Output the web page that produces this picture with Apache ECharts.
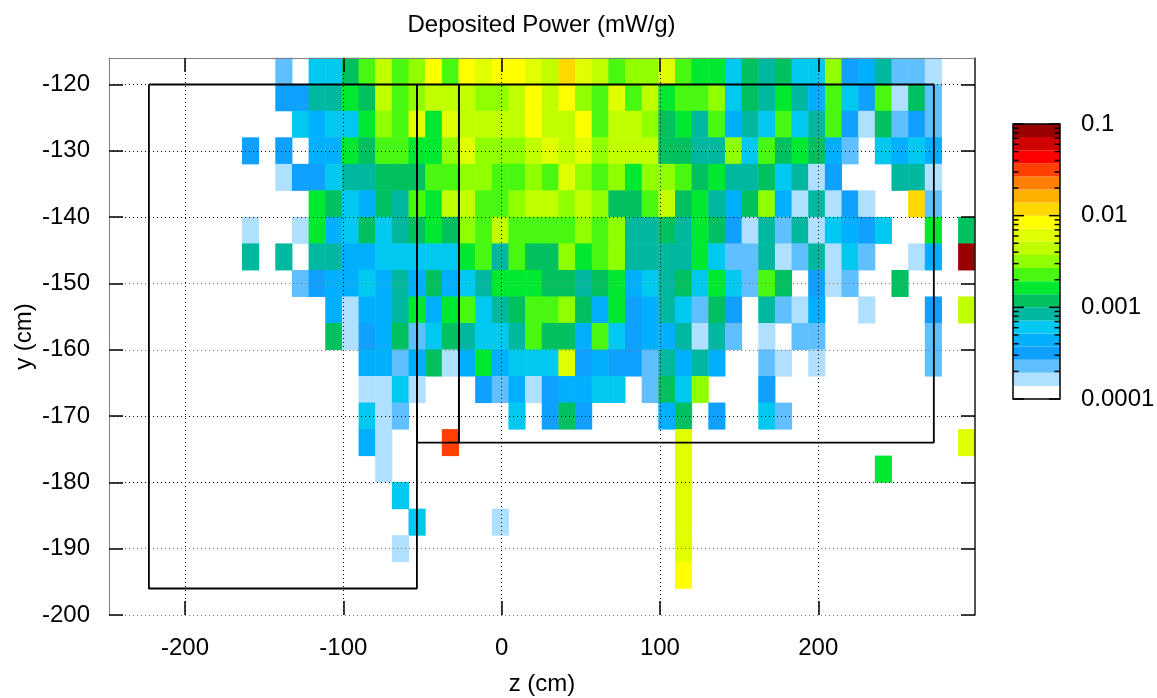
<!DOCTYPE html>
<html>
<head>
<meta charset="utf-8">
<style>html,body{margin:0;padding:0;background:#fff}#c{width:1157px;height:698px}</style>
<script src="https://cdn.jsdelivr.net/npm/echarts@6/dist/echarts.min.js"></script>
</head>
<body>
<div id="c"></div>
<script>
// Colour band for each 4 cm row (top to bottom), 52 z bins; 0 = below scale (white)
const rowM118 = [0,0,0,0,0,0,0,0,0,0,2,0,5,5,7,9,11,9,10,13,9,13,12,13,13,12,11,14,12,11,9,10,10,12,9,8,8,5,7,6,7,5,5,10,3,4,6,2,2,1,0,0];
const rowM122 = [0,0,0,0,0,0,0,0,0,0,3,3,6,6,8,7,11,9,10,11,11,11,10,10,11,13,11,13,10,9,12,9,11,8,9,9,10,5,7,6,8,6,4,9,5,3,9,1,7,2,0,0];
const rowM126 = [0,0,0,0,0,0,0,0,0,0,0,5,4,5,5,8,10,9,12,8,12,11,11,11,11,13,11,11,13,9,11,11,10,7,8,6,9,4,6,5,9,5,6,9,3,1,7,2,3,2,0,0];
const rowM130 = [0,0,0,0,0,0,0,0,3,0,3,0,4,4,8,7,9,9,8,8,10,12,10,10,10,11,12,11,12,10,11,11,11,7,7,6,6,10,5,9,7,8,7,4,2,0,5,4,5,4,0,0];
const rowM134 = [0,0,0,0,0,0,0,0,0,0,1,3,3,5,6,6,7,7,7,9,9,10,10,9,9,10,9,12,10,9,10,8,10,10,9,7,8,6,6,7,5,6,1,3,0,0,0,6,6,1,0,0];
const rowM138 = [0,0,0,0,0,0,0,0,0,0,0,0,8,7,5,4,7,6,9,8,11,11,9,9,10,11,11,10,11,10,7,7,9,11,7,8,6,4,7,10,4,1,6,1,3,1,0,0,14,2,0,0];
const rowM142 = [0,0,0,0,0,0,0,0,1,0,0,1,8,4,5,7,5,6,7,8,7,10,9,11,9,9,9,9,10,9,10,6,6,7,6,8,7,3,1,6,2,6,1,5,4,3,5,0,0,8,0,7];
const rowM146 = [0,0,0,0,0,0,0,0,6,0,6,0,6,6,4,4,5,5,5,5,5,8,9,6,9,7,7,10,8,9,10,6,6,6,6,8,5,2,2,6,1,2,6,1,5,2,0,0,1,4,0,20];
const rowM150 = [0,0,0,0,0,0,0,0,0,0,0,2,3,4,4,5,4,6,4,7,4,5,6,8,8,8,7,7,6,7,8,4,5,6,7,5,8,5,2,9,7,0,3,1,2,0,0,7,0,0,0,0];
const rowM154 = [0,0,0,0,0,0,0,0,0,0,0,0,0,4,1,4,4,6,8,4,8,9,5,6,7,9,9,10,7,4,8,3,4,6,5,2,7,3,0,6,2,1,4,0,0,1,0,0,0,3,0,11];
const rowM158 = [0,0,0,0,0,0,0,0,0,0,0,0,0,7,1,3,4,7,2,5,7,6,5,5,6,9,7,7,4,9,5,3,4,4,6,1,6,2,0,1,0,2,2,0,0,0,0,0,0,2,0,0];
const rowM162 = [0,0,0,0,0,0,0,0,0,0,0,0,0,0,0,4,4,2,4,7,1,4,8,4,5,5,5,12,3,4,3,3,2,6,4,6,4,0,0,2,1,0,1,0,0,0,0,0,0,2,0,0];
const rowM166 = [0,0,0,0,0,0,0,0,0,0,0,0,0,0,0,1,1,5,1,0,0,0,3,2,4,1,3,4,4,5,5,0,2,7,5,10,0,0,0,3,0,0,0,0,0,0,0,0,0,0,0,0];
const rowM170 = [0,0,0,0,0,0,0,0,0,0,0,0,0,0,0,5,1,2,0,0,0,0,0,0,5,0,3,7,3,0,0,0,0,4,7,0,3,0,0,5,2,0,0,0,0,0,0,0,0,0,0,0];
const rowM174 = [0,0,0,0,0,0,0,0,0,0,0,0,0,0,0,4,1,0,0,0,17,0,0,0,0,0,0,0,0,0,0,0,0,0,12,0,0,0,0,0,0,0,0,0,0,0,0,0,0,0,0,12];
const rowM178 = [0,0,0,0,0,0,0,0,0,0,0,0,0,0,0,0,1,0,0,0,0,0,0,0,0,0,0,0,0,0,0,0,0,0,12,0,0,0,0,0,0,0,0,0,0,0,8,0,0,0,0,0];
const rowM182 = [0,0,0,0,0,0,0,0,0,0,0,0,0,0,0,0,0,5,0,0,0,0,0,0,0,0,0,0,0,0,0,0,0,0,12,0,0,0,0,0,0,0,0,0,0,0,0,0,0,0,0,0];
const rowM186 = [0,0,0,0,0,0,0,0,0,0,0,0,0,0,0,0,0,0,5,0,0,0,0,1,0,0,0,0,0,0,0,0,0,0,12,0,0,0,0,0,0,0,0,0,0,0,0,0,0,0,0,0];
const rowM190 = [0,0,0,0,0,0,0,0,0,0,0,0,0,0,0,0,0,1,0,0,0,0,0,0,0,0,0,0,0,0,0,0,0,0,12,0,0,0,0,0,0,0,0,0,0,0,0,0,0,0,0,0];
const rowM194 = [0,0,0,0,0,0,0,0,0,0,0,0,0,0,0,0,0,0,0,0,0,0,0,0,0,0,0,0,0,0,0,0,0,0,13,0,0,0,0,0,0,0,0,0,0,0,0,0,0,0,0,0];
const rowM198 = [0,0,0,0,0,0,0,0,0,0,0,0,0,0,0,0,0,0,0,0,0,0,0,0,0,0,0,0,0,0,0,0,0,0,0,0,0,0,0,0,0,0,0,0,0,0,0,0,0,0,0,0];

const rowsTopDown = [rowM118,rowM122,rowM126,rowM130,rowM134,rowM138,rowM142,rowM146,rowM150,rowM154,rowM158,rowM162,rowM166,rowM170,rowM174,rowM178,rowM182,rowM186,rowM190,rowM194,rowM198];
const yBins = [-198,-194,-190,-186,-182,-178,-174,-170,-166,-162,-158,-154,-150,-146,-142,-138,-134,-130,-126,-122,-118];
const zBins = rowM118.map((_, i) => i);

const palette = ['#ffffff','#b0e0ff','#60c0ff','#10a0ff','#00b0ff','#00c8f0','#00b8a0','#00c060','#00e830','#48f810','#90ff00','#c0ff00','#e0ff00','#ffff00','#ffd800','#ffb000','#ff8000','#ff4000','#ff0000','#d00000','#990000'];
const powerMin = 0.0001, bandsPerDecade = 7;
const bandEdge = k => powerMin * Math.pow(10, k / bandsPerDecade);
const bandCentre = k => bandEdge(k + 0.5);

const zTicks = [-200,-100,0,100,200];
const yTicks = [-200,-190,-180,-170,-160,-150,-140,-130,-120];
const zRange = [-248, 299], yRange = [-200, -116];
const barTicksMajor = [0.0001,0.001,0.01,0.1];
const barTicksMinor = [0.0002,0.0003,0.0004,0.0005,0.0006,0.0007,0.0008,0.0009,0.002,0.003,0.004,0.005,0.006,0.007,0.008,0.009,0.02,0.03,0.04,0.05,0.06,0.07,0.08,0.09];

// Boundary boxes (z, y)
const boxLower = [[-222.8,-120],[-53.5,-120],[-53.5,-196],[-222.8,-196],[-222.8,-120]];
const boxMiddle = [[-53.5,-120],[-27,-120],[-27,-174],[-53.5,-174],[-53.5,-120]];
const boxUpper = [[-27,-120],[273,-120],[273,-174],[-27,-174],[-27,-120]];

const FONT = '"Liberation Sans", Arial, Helvetica, sans-serif';
const FS = 24;
const cells = [];
rowsTopDown.forEach((row, r) => row.forEach((band, i) => {
  if (band > 0) cells.push([i, rowsTopDown.length - 1 - r, bandCentre(band)]);
}));
const barBands = palette.map((c, k) => [0, bandEdge(k), bandEdge(k + 1), k]);
const pieces = palette.map((c, k) => ({ gte: bandEdge(k), lt: bandEdge(k + 1), color: c }));

const frame = { show: true, onZero: false, lineStyle: { color: '#808080', width: 1 } };
const frameRight = { show: true, onZero: false, lineStyle: { color: '#1a1a1a', width: 1.5 } };
const dots = c => ({ show: true, lineStyle: { color: c, width: 1, type: [1, 3] } });
const tick = v => ({ show: true, inside: true, length: 14, customValues: v, lineStyle: { color: '#000', width: 1.5 } });
const label = (v, m) => ({ show: true, customValues: v, color: '#000', fontSize: FS, fontFamily: FONT, margin: m });
const axisName = { color: '#000', fontSize: FS, fontFamily: FONT };

const boxSeries = d => ({ type: 'line', xAxisIndex: 1, yAxisIndex: 1, data: d, symbol: 'none', silent: true, z: 5, clip: false,
  lineStyle: { color: '#000', width: 1.8 } });

const chart = echarts.init(document.getElementById('c'), null, { renderer: 'canvas' });
chart.setOption({
  animation: false,
  backgroundColor: '#fff',
  title: { text: 'Deposited Power (mW/g)', left: 536.5, top: 8, textAlign: 'center',
    textStyle: { color: '#000', fontWeight: 'normal', fontSize: FS, fontFamily: FONT } },
  grid: [
    { left: 109, top: 58, width: 866, height: 557, containLabel: false, outerBoundsMode: 'none' },
    { left: 1013, top: 124, width: 47, height: 275, show: true, borderColor: '#000', borderWidth: 1.5, backgroundColor: 'transparent', z: 4, outerBoundsMode: 'none' }
  ],
  xAxis: [
    { type: 'category', gridIndex: 0, data: zBins, show: false },
    { type: 'value', gridIndex: 0, position: 'bottom', min: zRange[0], max: zRange[1], z: 3, axisLine: { show: false },
      axisTick: tick(zTicks), axisLabel: label(zTicks, 21), splitLine: dots('#000'),
      name: 'z (cm)', nameLocation: 'middle', nameGap: 57, nameMoveOverlap: false, nameTextStyle: axisName },
    { type: 'value', gridIndex: 0, position: 'top', min: zRange[0], max: zRange[1], z: 3, axisLine: frame,
      axisTick: tick(zTicks), axisLabel: { show: false }, splitLine: { show: false } },
    { type: 'value', gridIndex: 1, min: 0, max: 1, show: false }
  ],
  yAxis: [
    { type: 'category', gridIndex: 0, data: yBins, show: false },
    { type: 'value', gridIndex: 0, position: 'left', min: yRange[0], max: yRange[1], z: 3, axisLine: frame,
      axisTick: tick(yTicks), axisLabel: label(yTicks, 19),
      splitLine: dots(['#777','#777','#000','#000','#777','#777','#000','#000','#000']),
      name: 'y (cm)', nameLocation: 'middle', nameGap: 73, nameMoveOverlap: false, nameTextStyle: axisName },
    { type: 'value', gridIndex: 0, position: 'right', min: yRange[0], max: yRange[1], z: 3, axisLine: frameRight,
      axisTick: tick(yTicks), axisLabel: { show: false }, splitLine: { show: false } },
    { type: 'log', gridIndex: 1, position: 'right', logBase: 10, min: 0.0001, max: 0.1, axisLine: { show: false }, axisTick: { show: false }, splitLine: { show: false }, minorTick: { show: false },
      axisLabel: { show: true, color: '#000', fontSize: FS, fontFamily: FONT, margin: 21, formatter: v => String(+Number(v).toPrecision(1)) } }
  ],
  visualMap: { type: 'piecewise', show: false, seriesIndex: 0, dimension: 2, pieces: pieces },
  series: [
    { type: 'heatmap', xAxisIndex: 0, yAxisIndex: 0, data: cells, progressive: 0, silent: true, z: 2, emphasis: { disabled: true } },
    boxSeries(boxLower), boxSeries(boxMiddle), boxSeries(boxUpper),
    { type: 'custom', xAxisIndex: 3, yAxisIndex: 3, data: barBands, silent: true, z: 2, encode: { x: 0, y: [1, 2] },
      renderItem: (params, api) => {
        const a = api.coord([0, api.value(1)]), b = api.coord([1, api.value(2)]);
        return { type: 'rect', shape: { x: a[0], y: b[1], width: b[0] - a[0], height: a[1] - b[1] },
          style: { fill: palette[api.value(3)], stroke: null } };
      } },
    { type: 'custom', xAxisIndex: 3, yAxisIndex: 3, silent: true, z: 6, encode: { x: 0, y: 1 },
      data: barTicksMajor.map(v => [0, v, 11]).concat(barTicksMinor.map(v => [0, v, 5.5])),
      renderItem: (params, api) => {
        const a = api.coord([0, api.value(1)]), b = api.coord([1, api.value(1)]), n = api.value(2);
        const st = { stroke: '#000', lineWidth: 1.5, fill: null };
        return { type: 'group', children: [
          { type: 'line', shape: { x1: a[0], y1: a[1], x2: a[0] + n, y2: a[1] }, style: st },
          { type: 'line', shape: { x1: b[0], y1: b[1], x2: b[0] - n, y2: b[1] }, style: st }
        ] };
      } }
  ]
});
</script>
</body>
</html>
